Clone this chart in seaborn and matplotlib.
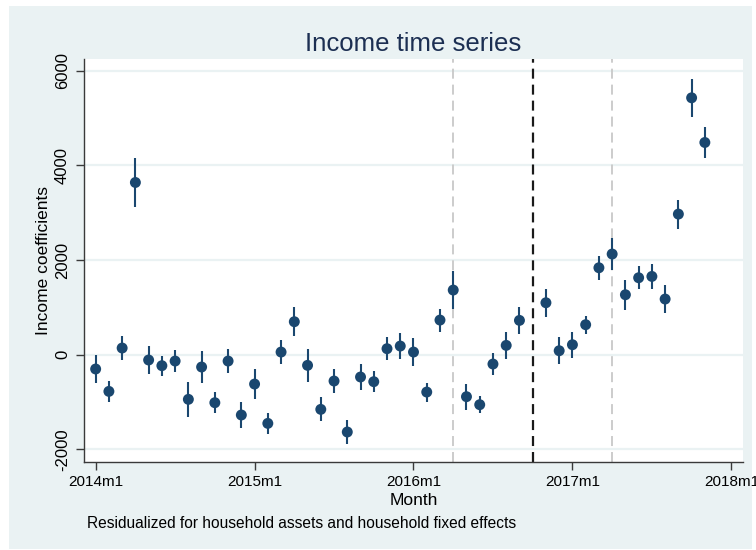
import matplotlib
matplotlib.use("Agg")
import matplotlib.pyplot as plt
from matplotlib.patches import Rectangle
import numpy as np
import pandas as pd
import seaborn as sns

# Monthly coefficients (2016m10 is the omitted reference month)
months = [
    "2014m1", "2014m2", "2014m3", "2014m4", "2014m5", "2014m6", "2014m7", "2014m8",
    "2014m9", "2014m10", "2014m11", "2014m12",
    "2015m1", "2015m2", "2015m3", "2015m4", "2015m5", "2015m6", "2015m7", "2015m8",
    "2015m9", "2015m10", "2015m11", "2015m12",
    "2016m1", "2016m2", "2016m3", "2016m4", "2016m5", "2016m6", "2016m7", "2016m8",
    "2016m9", "2016m11", "2016m12",
    "2017m1", "2017m2", "2017m3", "2017m4", "2017m5", "2017m6", "2017m7", "2017m8",
    "2017m9", "2017m10", "2017m11",
]
coef = [
    -302, -775, 141, 3639, -112, -232, -134, -943,
    -260, -1014, -134, -1274,
    -620, -1451, 56, 697, -225, -1155, -556, -1633,
    -471, -570, 127, 183,
    56, -789, 732, 1366, -887, -1056, -197, 197,
    725, 1098, 84,
    211, 634, 1837, 2127, 1267, 1626, 1654, 1176,
    2971, 5428, 4484,
]
ci_half = [
    300, 220, 250, 510, 295, 210, 240, 375,
    335, 220, 245, 280,
    320, 220, 250, 303, 352, 253, 246, 246,
    267, 218, 246, 275,
    295, 200, 243, 397, 275, 180, 240, 290,
    292, 292, 282,
    278, 190, 253, 335, 317, 240, 264, 290,
    306, 400, 320,
]

tick_labels = ["2014m1", "2015m1", "2016m1", "2017m1", "2018m1"]
ref_lines = {"2016m4": ("#c8c8c8", 1.3), "2016m10": ("#1a1a1a", 1.6),
             "2017m4": ("#c8c8c8", 1.3)}


def month_index(label):
    year, mon = label.split("m")
    return (int(year) - 2014) * 12 + int(mon) - 1


df = pd.DataFrame({"month": [month_index(m) for m in months],
                   "coef": coef, "half": ci_half})
df["lo"] = df["coef"] - df["half"]
df["hi"] = df["coef"] + df["half"]

sns.set_theme(style="white")
plt.rcParams["font.family"] = ["Liberation Sans", "DejaVu Sans"]

navy = "#1a476f"
region = "#eaf2f3"

fig = plt.figure(figsize=(7.56, 5.5), dpi=100, facecolor="white")
fig.patches.append(Rectangle((9 / 756, 1 / 550), 743 / 756, 543 / 550,
                             transform=fig.transFigure, facecolor=region,
                             edgecolor="none", zorder=-10))
ax = fig.add_axes([84 / 756, 1 - 462 / 550, 659 / 756, 403 / 550])
ax.set_facecolor("white")

# horizontal grid
for y in [-2000, 0, 2000, 4000, 6000]:
    ax.axhline(y, color=region, lw=1.6, zorder=0)

# reference month markers
for lab, (col, lw) in ref_lines.items():
    dash = 7.2 / lw
    gap = 4.3 / lw
    ax.axvline(month_index(lab), color=col, lw=lw, ls=(0, (dash, gap)), zorder=1)

ax.vlines(df["month"], df["lo"], df["hi"], color=navy, lw=1.5, zorder=2)
sns.scatterplot(data=df, x="month", y="coef", ax=ax, color=navy, s=62,
                edgecolor="none", zorder=3, legend=False)

ax.set_xlim(-0.88, 48.88)
ax.set_ylim(-2267, 6248)
ax.set_xticks([month_index(t) for t in tick_labels])
ax.set_xticklabels(tick_labels)
ax.set_yticks([-2000, 0, 2000, 4000, 6000])
ax.set_yticklabels(["-2000", "0", "2000", "4000", "6000"], rotation=90, va="center")

for s in ["top", "right"]:
    ax.spines[s].set_visible(False)
for s in ["left", "bottom"]:
    ax.spines[s].set_color("#3a3a3a")
    ax.spines[s].set_linewidth(1.0)
ax.tick_params(axis="both", which="both", direction="out", length=6, width=1.0,
               color="#3a3a3a", labelcolor="black")
ax.tick_params(axis="x", labelsize=11, pad=3.5, bottom=True)
ax.tick_params(axis="y", labelsize=12, pad=4, left=True)

ax.set_xlabel("Month", fontsize=12.5, color="black", labelpad=3)
ax.set_ylabel("Income coefficients", fontsize=12.5, color="black", labelpad=3)
ax.set_title("Income time series", fontsize=18.5, color="#1c2f52", pad=6)

fig.text(87 / 756, 1 - 523 / 550, "Residualized for household assets and household fixed effects",
         fontsize=11.2, color="black", va="center", ha="left")

fig.savefig("out.png", dpi=100, facecolor=fig.get_facecolor())
